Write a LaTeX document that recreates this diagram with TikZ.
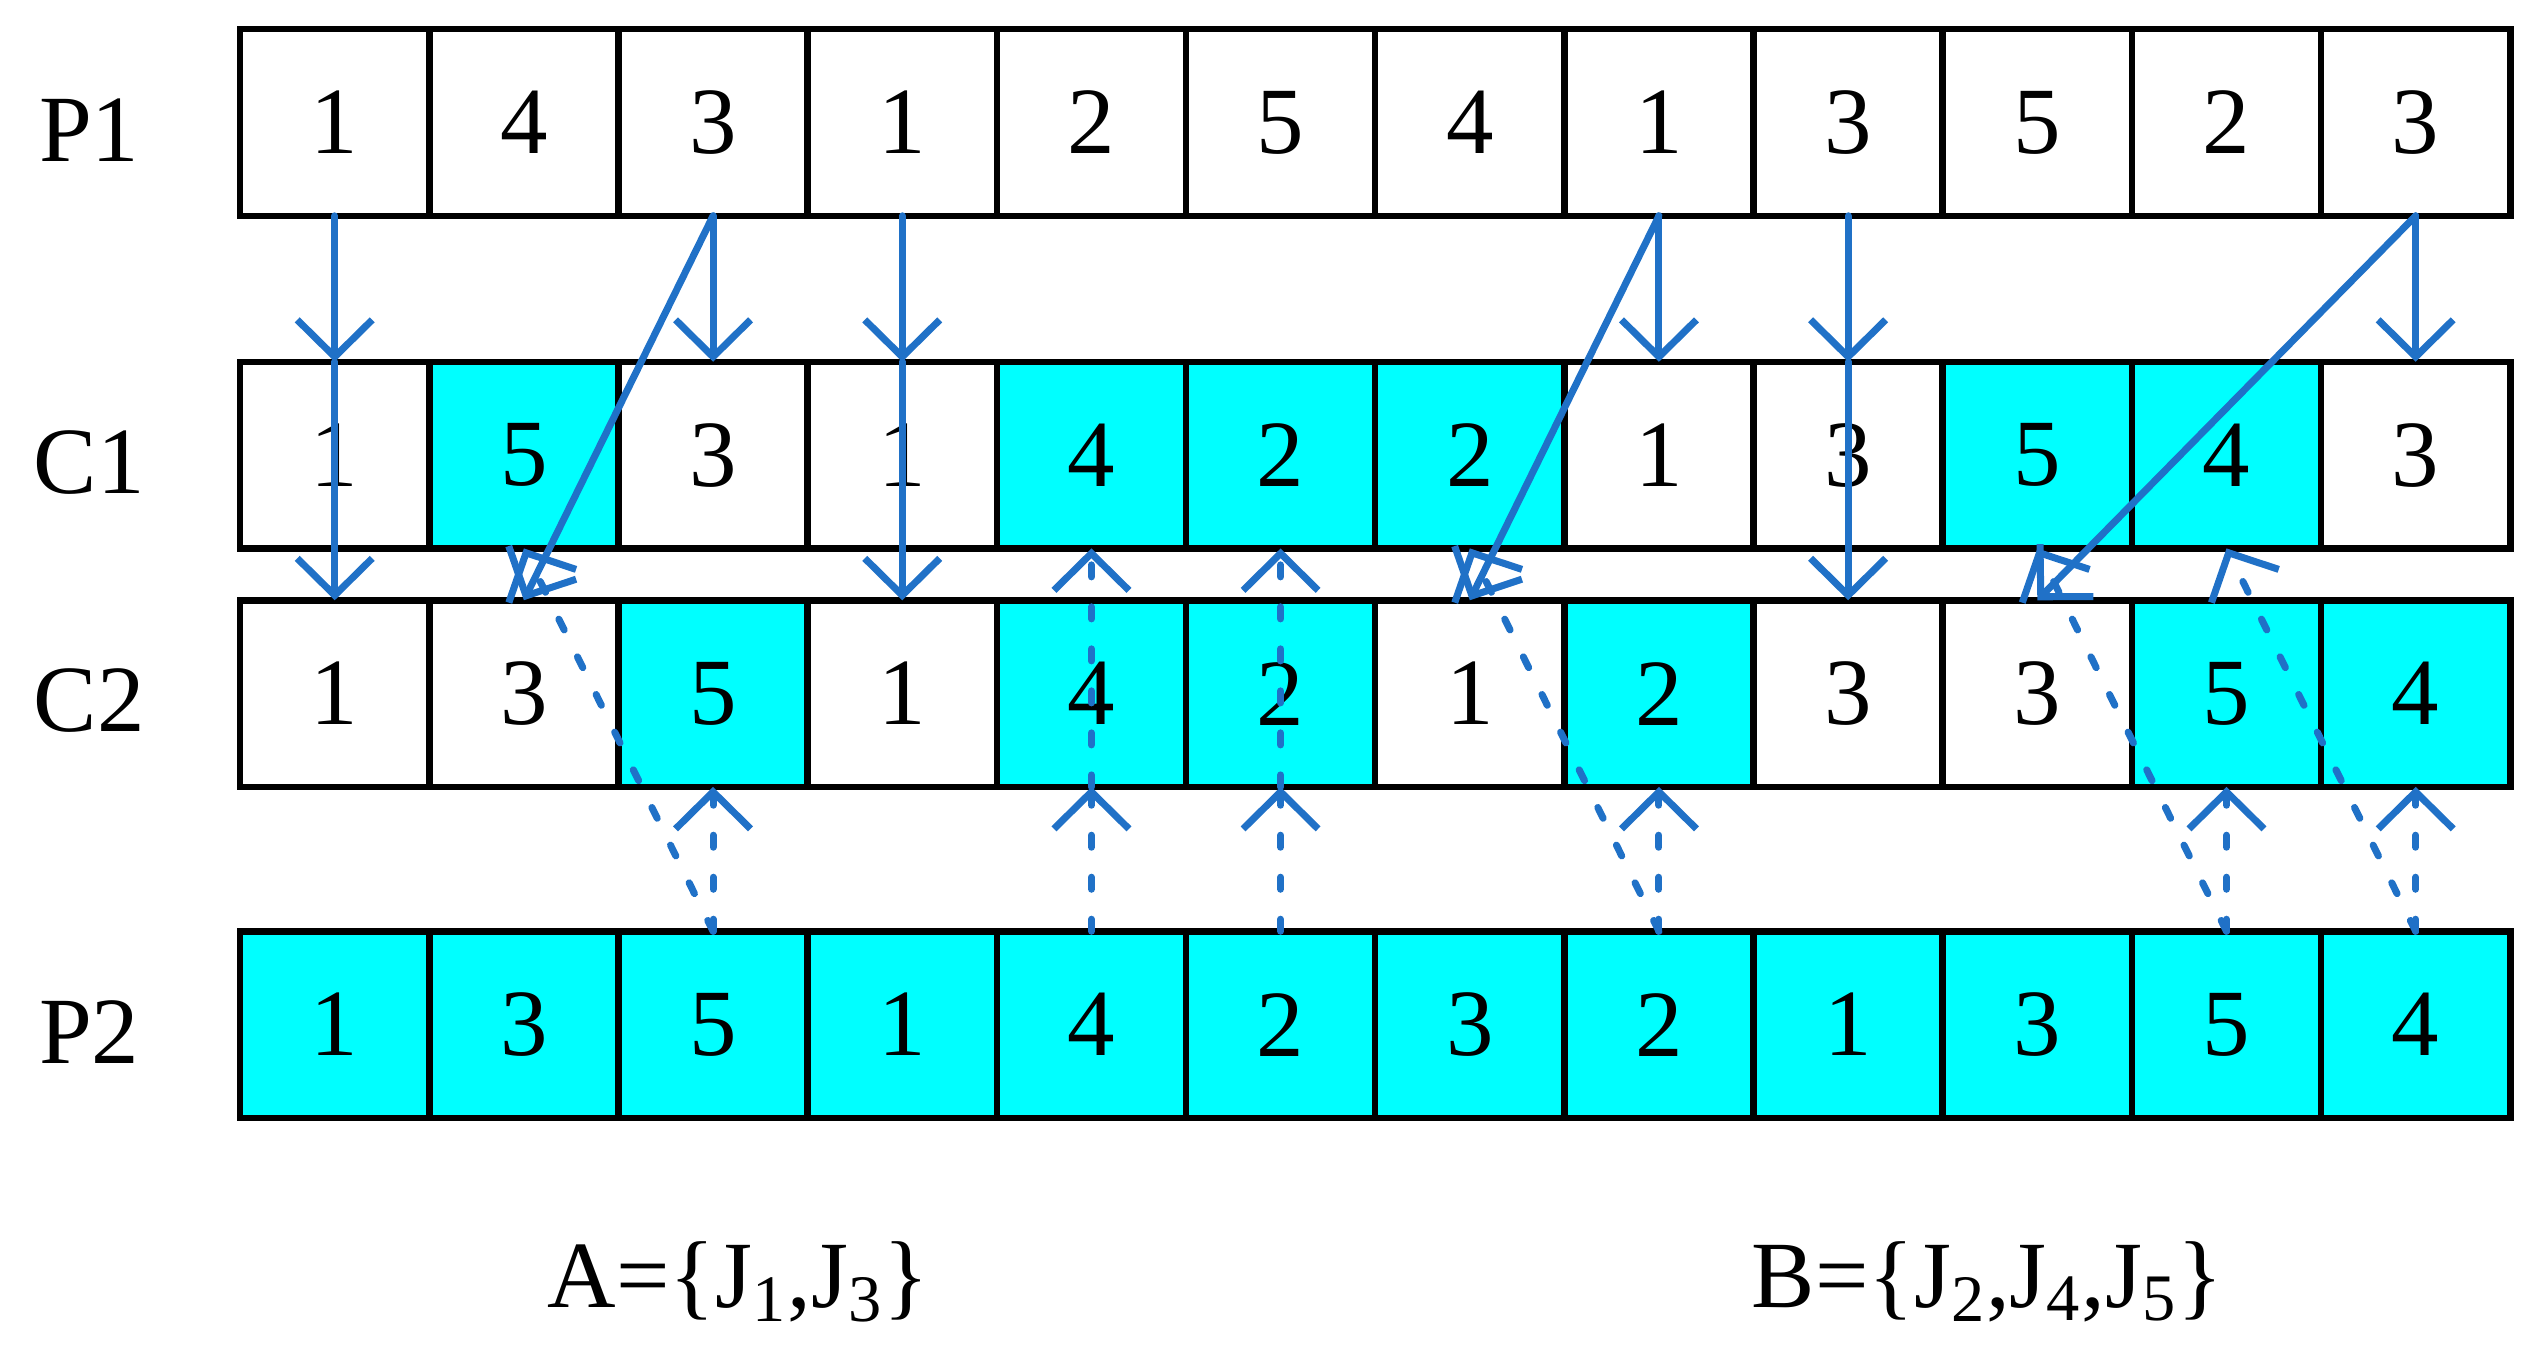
\documentclass[tikz,border=0pt]{standalone}
\usepackage{fontspec}
\setmainfont{Liberation Serif}
\usetikzlibrary{arrows.meta}
\definecolor{ac}{RGB}{32,113,199}
\definecolor{cy}{RGB}{0,255,255}
\tikzset{
  cell/.style={draw=black,line width=1.85pt,minimum width=1.892cm,minimum height=1.866cm,inner sep=0pt,outer sep=0pt,font=\fontsize{27}{30}\selectfont},
  cyc/.style={cell,fill=cy},
  lab/.style={font=\fontsize{27}{30}\selectfont},
  sa/.style={ac,line width=2pt,line cap=round,-{Straight Barb[length=0.37cm,width=0.75cm,line width=2pt]}},
  da/.style={sa,dash pattern=on 0.12cm off 0.3cm}
}
\begin{document}
\begin{tikzpicture}[x=0.016224cm,y=-0.016224cm]
\useasboundingbox (0,0) rectangle (1560,845);
\def\rowA{1,4,3,1,2,5,4,1,3,5,2,3}
\foreach \v [count=\i] in {1,4,3,1,2,5,4,1,3,5,2,3}
  \node[cell] (p1-\i) at ({148+116.6*(\i-0.5)},75.5) {\v};
\foreach \v/\f [count=\i] in {1/cell,5/cyc,3/cell,1/cell,4/cyc,2/cyc,2/cyc,1/cell,3/cell,5/cyc,4/cyc,3/cell}
  \node[\f] (c1-\i) at ({148+116.6*(\i-0.5)},280.5) {\v};
\foreach \v/\f [count=\i] in {1/cell,3/cell,5/cyc,1/cell,4/cyc,2/cyc,1/cell,2/cyc,3/cell,3/cell,5/cyc,4/cyc}
  \node[\f] (c2-\i) at ({148+116.6*(\i-0.5)},427.5) {\v};
\foreach \v [count=\i] in {1,3,5,1,4,2,3,2,1,3,5,4}
  \node[cyc] (p2-\i) at ({148+116.6*(\i-0.5)},631.5) {\v};
\node[lab] (l1) at (55,80) {P1};
\node[lab] (l2) at (55,285) {C1};
\node[lab] (l3) at (55,432) {C2};
\node[lab] (l4) at (55,636) {P2};
\node[lab] (la) at (455,790) {A=\{J\textsubscript{1},J\textsubscript{3}\}};
\node[lab] (lb) at (1225,790) {B=\{J\textsubscript{2},J\textsubscript{4},J\textsubscript{5}\}};
% solid arrows
\foreach \i in {1,3,4,8,9,12} \draw[sa] (p1-\i.south) -- (c1-\i.north);
\foreach \i in {1,4,9} \draw[sa] (c1-\i.north) -- (c2-\i.north);
\draw[sa] (p1-3.south) -- (c2-2.north);
\draw[sa] (p1-8.south) -- (c2-7.north);
\draw[sa] (p1-12.south) -- (c2-10.north);
% dashed arrows
\foreach \i in {3,5,6,8,11,12} \draw[da] (p2-\i.north) -- (c2-\i.south);
\foreach \i in {5,6} \draw[da] (c2-\i.south) -- (c1-\i.south);
\draw[da] (p2-3.north) -- (c1-2.south);
\draw[da] (p2-8.north) -- (c1-7.south);
\draw[da] (p2-11.north) -- (c1-10.south);
\draw[da] (p2-12.north) -- (c1-11.south);
\end{tikzpicture}
\end{document}
